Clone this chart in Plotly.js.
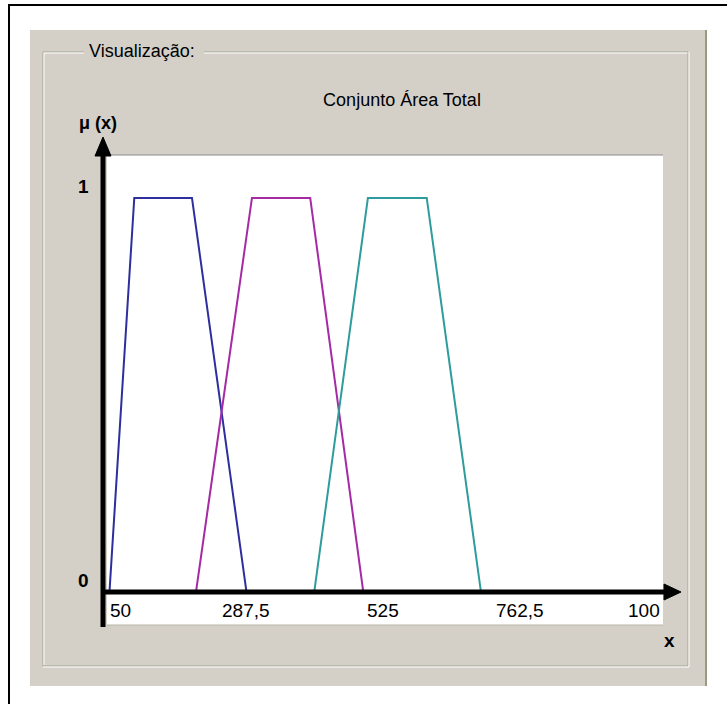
<!DOCTYPE html>
<html>
<head>
<meta charset="utf-8">
<script src="https://cdn.plot.ly/plotly-3.0.1.min.js"></script>
<style>html,body{margin:0;padding:0;background:#fff;}#chart{width:727px;height:704px;}</style>
</head>
<body>
<div id="chart"></div>
<script>
// ---- data ----
var setNames = ["Pequena", "Média", "Grande"];
var blueX = [50, 93, 193, 287.5];
var purpleX = [200, 297, 398, 490];
var tealX = [405, 498, 600, 694];
var membership = [0, 1, 1, 0];
var tickVals = [50, 287.5, 525, 762.5, 1000];
var tickText = ["50", "287,5", "525", "762,5", "100"];
var yTickVals = [0, 1];
var yTickText = ["0", "1"];
var chartTitle = "Conjunto Área Total";
var groupTitle = "Visualização:";

// ---- layout helpers (pixel -> paper) ----
var W = 727, H = 704;
function px(x) { return x / W; }
function py(y) { return 1 - y / H; }
var FONT = "Liberation Sans, Arial, sans-serif";
var colors = ["#2e2e9e", "#a52aa5", "#2e9c9c"];
var xs = [blueX, purpleX, tealX];

var traces = xs.map(function (xv, i) {
  return {
    type: "scatter", mode: "lines", name: setNames[i],
    x: xv, y: membership,
    line: { color: colors[i], width: 2 },
    hoverinfo: "skip"
  };
});

var shapes = [
  // outer black frame (left and top)
  { type: "line", xref: "paper", yref: "paper", x0: px(9), x1: px(9), y0: py(5), y1: py(704), line: { color: "#000", width: 2 } },
  { type: "line", xref: "paper", yref: "paper", x0: px(8), x1: px(727), y0: py(5), y1: py(5), line: { color: "#000", width: 2 } },
  // gray dialog panel
  { type: "rect", xref: "paper", yref: "paper", x0: px(30), x1: px(706), y0: py(30), y1: py(686), fillcolor: "#d4d0c8", line: { width: 0 }, layer: "below" },
  // white plot box
  { type: "rect", xref: "paper", yref: "paper", x0: px(107), x1: px(663), y0: py(155), y1: py(625), fillcolor: "#ffffff", line: { width: 0 }, layer: "below" },
  { type: "line", xref: "paper", yref: "paper", x0: px(706), x1: px(706), y0: py(30), y1: py(686), line: { color: "#9a9a80", width: 2 } },
  // group box etched frame
  { type: "line", xref: "paper", yref: "paper", x0: px(43), x1: px(84), y0: py(52), y1: py(52), line: { color: "#a5a592", width: 1 } },
  { type: "line", xref: "paper", yref: "paper", x0: px(204), x1: px(688), y0: py(52), y1: py(52), line: { color: "#a5a592", width: 1 } },
  { type: "line", xref: "paper", yref: "paper", x0: px(43), x1: px(84), y0: py(53), y1: py(53), line: { color: "#ffffff", width: 1 } },
  { type: "line", xref: "paper", yref: "paper", x0: px(204), x1: px(688), y0: py(53), y1: py(53), line: { color: "#ffffff", width: 1 } },
  { type: "line", xref: "paper", yref: "paper", x0: px(43), x1: px(43), y0: py(52), y1: py(666), line: { color: "#a5a592", width: 1 } },
  { type: "line", xref: "paper", yref: "paper", x0: px(44), x1: px(44), y0: py(53), y1: py(665), line: { color: "#ffffff", width: 1 } },
  { type: "line", xref: "paper", yref: "paper", x0: px(688), x1: px(688), y0: py(52), y1: py(666), line: { color: "#a5a592", width: 1 } },
  { type: "line", xref: "paper", yref: "paper", x0: px(689), x1: px(689), y0: py(52), y1: py(667), line: { color: "#ffffff", width: 1 } },
  { type: "line", xref: "paper", yref: "paper", x0: px(43), x1: px(688), y0: py(666), y1: py(666), line: { color: "#a5a592", width: 1 } },
  { type: "line", xref: "paper", yref: "paper", x0: px(43), x1: px(689), y0: py(667), y1: py(667), line: { color: "#ffffff", width: 1 } },
  // white plot box border
  { type: "line", xref: "paper", yref: "paper", x0: px(107), x1: px(663), y0: py(155), y1: py(155), line: { color: "#8c8c8c", width: 1 } },
  { type: "line", xref: "paper", yref: "paper", x0: px(107), x1: px(663), y0: py(625), y1: py(625), line: { color: "#b8b8a8", width: 1 } },
  // thick black axes
  { type: "line", xref: "paper", yref: "paper", x0: px(103), x1: px(103), y0: py(152), y1: py(627), line: { color: "#000", width: 5 } },
  { type: "line", xref: "paper", yref: "paper", x0: px(101), x1: px(668), y0: py(592), y1: py(592), line: { color: "#000", width: 5 } },
  // arrow heads
  { type: "path", xref: "paper", yref: "paper", path: "M " + px(103) + " " + py(137) + " L " + px(95) + " " + py(156) + " L " + px(111) + " " + py(156) + " Z", fillcolor: "#000", line: { color: "#000", width: 1 } },
  { type: "path", xref: "paper", yref: "paper", path: "M " + px(681) + " " + py(592) + " L " + px(664) + " " + py(584) + " L " + px(664) + " " + py(600) + " Z", fillcolor: "#000", line: { color: "#000", width: 1 } }
];

var annotations = [
  { text: groupTitle, xref: "paper", yref: "paper", x: px(87), y: py(51), xanchor: "left", yanchor: "middle", showarrow: false, font: { family: FONT, size: 18, color: "#000" } },
  { text: "<b>μ (x)</b>", xref: "paper", yref: "paper", x: px(98), y: py(123), xanchor: "center", yanchor: "middle", showarrow: false, font: { family: FONT, size: 18, color: "#000" } },
  { text: "<b>x</b>", xref: "paper", yref: "paper", x: px(669), y: py(640), xanchor: "center", yanchor: "middle", showarrow: false, font: { family: FONT, size: 19, color: "#000" } }
];
// x tick labels
tickVals.forEach(function (v, i) {
  var anchor = i === 0 ? "left" : (i === tickVals.length - 1 ? "right" : "center");
  var xv = i === 0 ? v - 3 : (i === tickVals.length - 1 ? 1008.5 : v);
  annotations.push({ text: tickText[i], xref: "x", yref: "paper", x: xv, y: py(610), xanchor: anchor, yanchor: "middle", showarrow: false, font: { family: FONT, size: 19, color: "#000" } });
});
// y tick labels
yTickVals.forEach(function (v, i) {
  annotations.push({ text: "<b>" + yTickText[i] + "</b>", xref: "paper", yref: "y", x: px(83), y: v + 0.03, xanchor: "center", yanchor: "middle", showarrow: false, font: { family: FONT, size: 19, color: "#000" } });
});

var layout = {
  width: W, height: H,
  margin: { l: 0, r: 0, t: 0, b: 0, pad: 0 },
  paper_bgcolor: "#ffffff",
  plot_bgcolor: "#ffffff",
  showlegend: false,
  title: { text: chartTitle, x: px(402), y: py(100), xanchor: "center", yanchor: "middle", xref: "paper", yref: "paper", font: { family: FONT, size: 18, color: "#000" } },
  xaxis: { domain: [px(107), px(663)], range: [45.7, 1009.6], showgrid: false, zeroline: false, showline: false, showticklabels: false, ticks: "", fixedrange: true },
  yaxis: { domain: [py(625), py(155)], range: [-0.084, 1.109], showgrid: false, zeroline: false, showline: false, showticklabels: false, ticks: "", fixedrange: true },
  shapes: shapes,
  annotations: annotations
};

Plotly.newPlot("chart", traces, layout, { staticPlot: true, displayModeBar: false });
</script>
</body>
</html>
